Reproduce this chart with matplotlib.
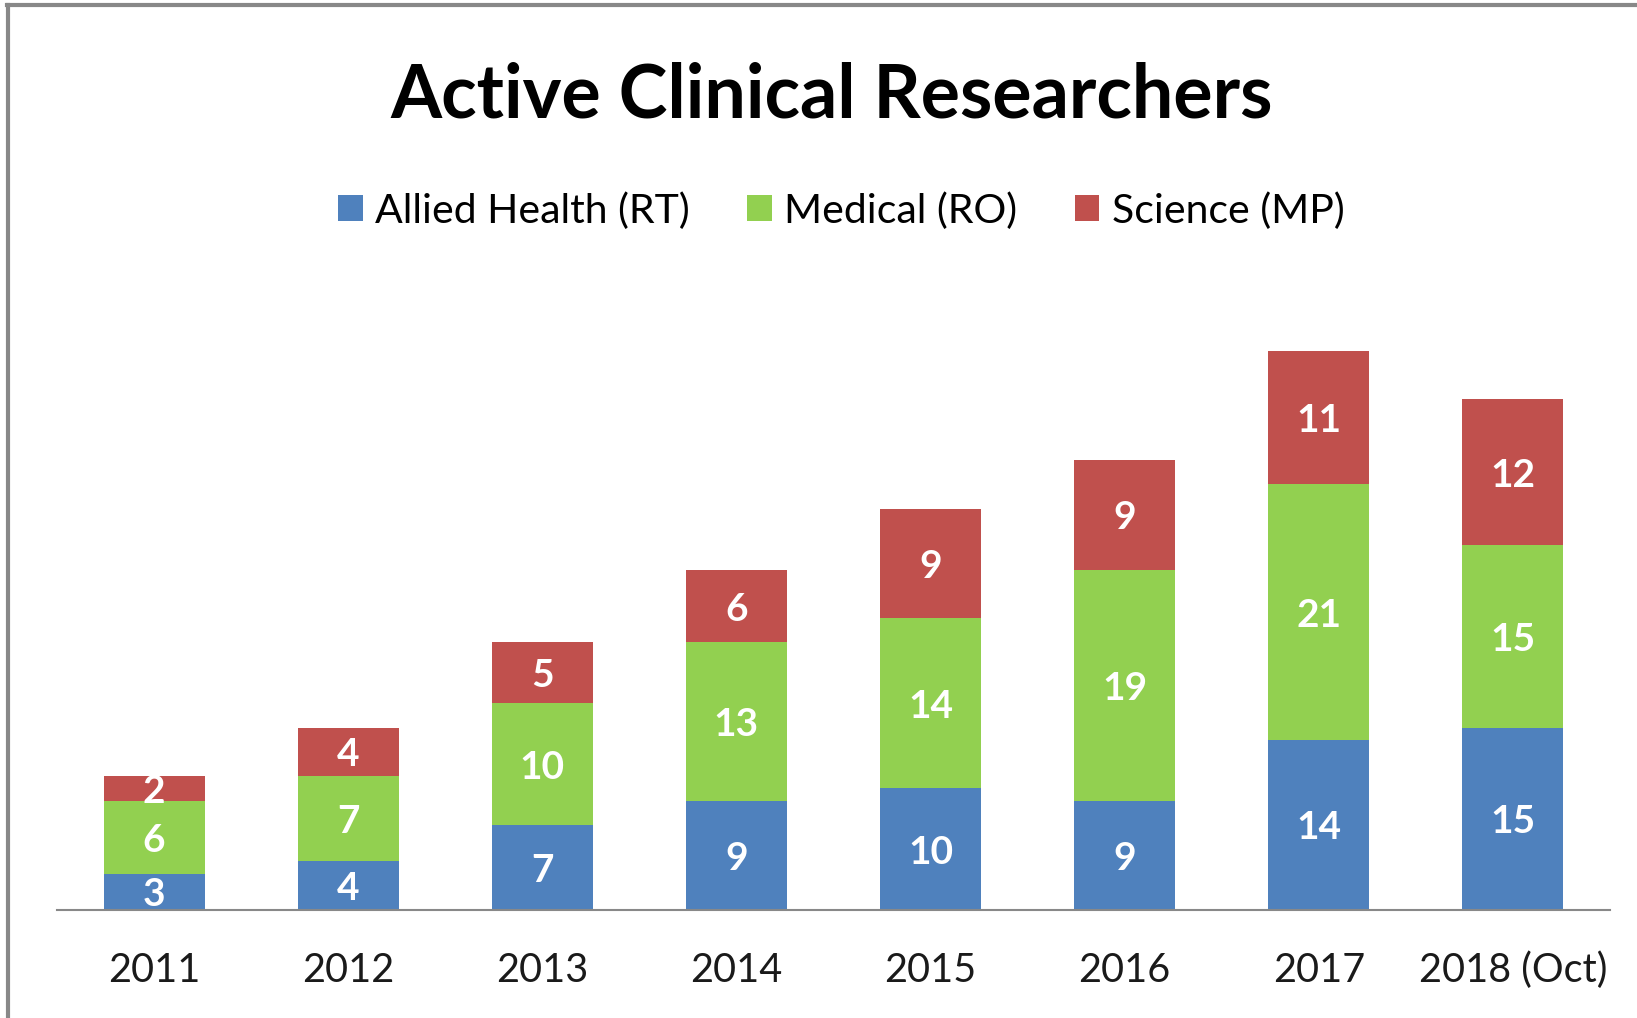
import matplotlib
matplotlib.use("Agg")
from matplotlib import pyplot as plt
import numpy as np

plt.rcParams['font.family'] = ['Lato', 'DejaVu Sans']

years = ["2011", "2012", "2013", "2014", "2015", "2016", "2017", "2018 (Oct)"]
allied = [3, 4, 7, 9, 10, 9, 14, 15]
medical = [6, 7, 10, 13, 14, 19, 21, 15]
science = [2, 4, 5, 6, 9, 9, 11, 12]

series_names = ["Allied Health (RT)", "Medical (RO)", "Science (MP)"]
colors = ["#4F81BD", "#92D050", "#C0504D"]

fig = plt.figure(figsize=(16.37, 10.18), dpi=100)
ax = fig.add_axes([0.0348, 0.1061, 0.9487, 0.5972])

x = np.arange(len(years))
bottom = np.zeros(len(years))
handles = []
for vals, name, c in zip([allied, medical, science], series_names, colors):
    vals = np.array(vals)
    bars = ax.bar(x, vals, 0.52, bottom=bottom, color=c, label=name)
    handles.append(bars)
    # white value labels in the middle of each segment
    for xi, b, v in zip(x, bottom, vals):
        ax.text(xi, b + v / 2, str(v), ha='center', va='center_baseline',
                color='white', fontsize=28, fontweight='bold')
    bottom += vals

ax.set_xlim(-0.5, 7.5)
ax.set_ylim(0, 50)
ax.set_yticks([])
ax.set_xticks(x)
ax.set_xticklabels(years, fontsize=28.5, color='#1a1a1a')
ax.tick_params(axis='x', length=0, pad=30)
for s in ['top', 'right', 'left']:
    ax.spines[s].set_visible(False)
ax.spines['bottom'].set_color('#888888')
ax.spines['bottom'].set_linewidth(1.5)

fig.text(0.508, 0.906, "Active Clinical Researchers", ha='center', va='center',
         fontsize=53, fontweight='bold', color='black')

fig.legend(handles=handles, labels=series_names, loc='center', bbox_to_anchor=(0.514, 0.793),
           ncol=3, frameon=False, fontsize=29.5, handlelength=0.6, handleheight=0.6,
           handletextpad=0.3, columnspacing=1.4)

# outer chart border (left and top edges visible)
fig.add_artist(plt.Line2D([0.005, 0.005], [0, 0.995], color='#888888', lw=3,
                          transform=fig.transFigure))
fig.add_artist(plt.Line2D([0.004, 1], [0.995, 0.995], color='#888888', lw=3,
                          transform=fig.transFigure))

fig.savefig("out.png", dpi=100)
